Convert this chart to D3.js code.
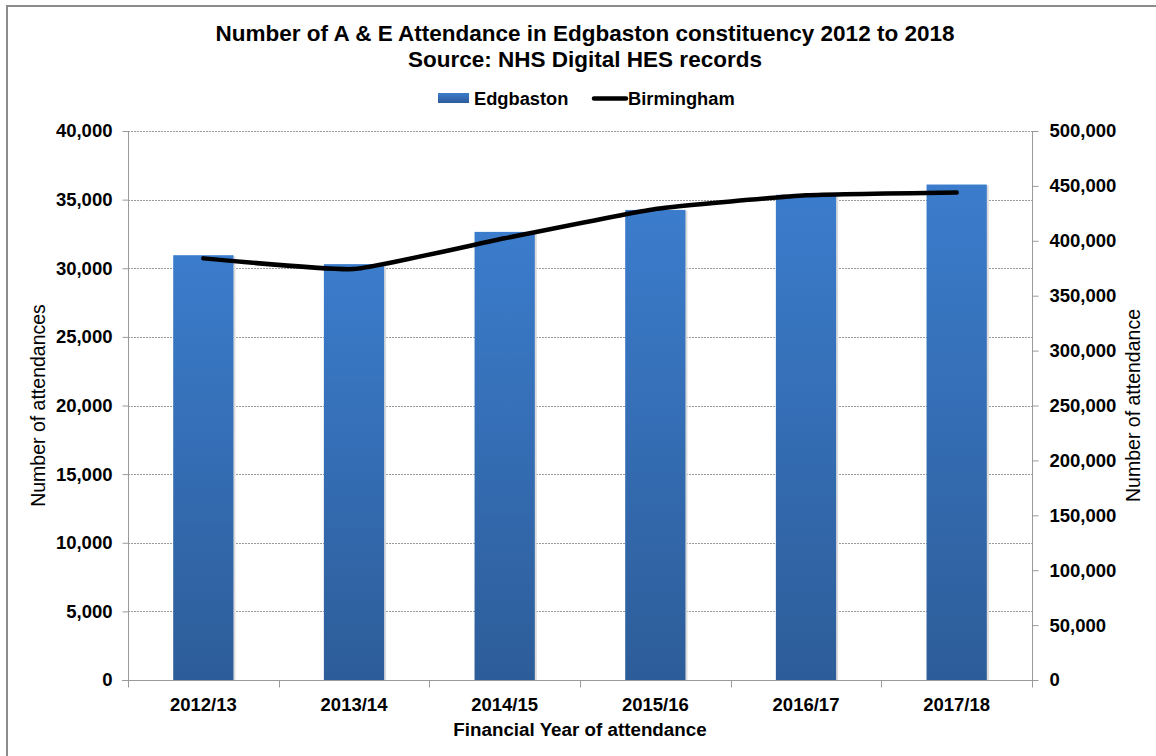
<!DOCTYPE html>
<html>
<head>
<meta charset="utf-8">
<script src="https://cdn.jsdelivr.net/npm/d3@7"></script>
<style>
  html, body { margin: 0; padding: 0; background: #fff; }
  svg { display: block; font-family: "Liberation Sans", Arial, sans-serif; }
</style>
</head>
<body>
<svg id="chart" width="1156" height="756"></svg>
<script>
const categories = ["2012/13", "2013/14", "2014/15", "2015/16", "2016/17", "2017/18"];
const edgbaston = [30950, 30300, 32650, 34250, 35350, 36100];
const birmingham = [384000, 374300, 402300, 429000, 441400, 444000];
const leftTicks = [0, 5000, 10000, 15000, 20000, 25000, 30000, 35000, 40000];
const rightTicks = [0, 50000, 100000, 150000, 200000, 250000, 300000, 350000, 400000, 450000, 500000];
const titleLines = ["Number of A & E Attendance in Edgbaston constituency 2012 to 2018", "Source: NHS Digital HES records"];
const seriesNames = ["Edgbaston", "Birmingham"];

const svg = d3.select("#chart");
const W = 1156, H = 756;
const m = { left: 128, right: 1032, top: 131, bottom: 680 };

// outer border
svg.append("rect").attr("x", 7).attr("y", 6).attr("width", W).attr("height", H)
  .attr("fill", "none").attr("stroke", "#8c8c8c").attr("stroke-width", 2);

const x = d3.scaleBand().domain(categories).range([m.left, m.right]).paddingInner(0.6).paddingOuter(0.3);
const yL = d3.scaleLinear().domain([0, 40000]).range([m.bottom, m.top]);
const yR = d3.scaleLinear().domain([0, 500000]).range([m.bottom, m.top]);
const fmt = d3.format(",");

// gradient
const defs = svg.append("defs");
const grad = defs.append("linearGradient").attr("id", "barGrad")
  .attr("x1", 0).attr("y1", 0).attr("x2", 0).attr("y2", 1);
grad.append("stop").attr("offset", "0%").attr("stop-color", "#3b7ccc");
grad.append("stop").attr("offset", "100%").attr("stop-color", "#2d5d99");
const lgrad = defs.append("linearGradient").attr("id", "legGrad")
  .attr("x1", 0).attr("y1", 0).attr("x2", 0).attr("y2", 1);
lgrad.append("stop").attr("offset", "0%").attr("stop-color", "#3b7ccc");
lgrad.append("stop").attr("offset", "100%").attr("stop-color", "#2d5d99");

// gridlines
svg.append("g").selectAll("line").data(leftTicks.filter(d => d > 0)).join("line")
  .attr("x1", m.left).attr("x2", m.right)
  .attr("y1", d => Math.round(yL(d)) + 0.5).attr("y2", d => Math.round(yL(d)) + 0.5)
  .attr("stroke", "#9a9a9a").attr("stroke-width", 1).attr("stroke-dasharray", "2,1");

// bar shadows
svg.append("g").selectAll("rect").data(edgbaston).join("rect")
  .attr("x", (d, i) => x(categories[i]) + 2)
  .attr("y", d => yL(d) + 1)
  .attr("width", x.bandwidth())
  .attr("height", d => m.bottom - yL(d) - 1)
  .attr("fill", "#dcdcdc");
// bars
svg.append("g").selectAll("rect").data(edgbaston).join("rect")
  .attr("x", (d, i) => x(categories[i]))
  .attr("y", d => yL(d))
  .attr("width", x.bandwidth())
  .attr("height", d => m.bottom - yL(d))
  .attr("fill", "url(#barGrad)");

// axes
const axisColor = "#9a9a9a";
const gL = svg.append("g").attr("transform", `translate(${m.left + 0.5},0)`)
  .call(d3.axisLeft(yL).tickValues(leftTicks).tickFormat(fmt).tickSize(6).tickPadding(10));
const gR = svg.append("g").attr("transform", `translate(${m.right + 0.5},0)`)
  .call(d3.axisRight(yR).tickValues(rightTicks).tickFormat(fmt).tickSize(6).tickPadding(11));
[gL, gR].forEach(g => {
  g.select(".domain").attr("stroke", axisColor).attr("d", `M0,${m.top}V${m.bottom + 7}`);
  g.selectAll(".tick line").attr("stroke", axisColor);
  g.selectAll("text").attr("font-size", 18.5).attr("font-weight", "bold").attr("fill", "#000")
    .attr("font-family", "Liberation Sans, Arial, sans-serif");
});

// bottom axis
const gB = svg.append("g").attr("transform", `translate(0,${m.bottom + 0.5})`);
gB.append("line").attr("x1", m.left - 6).attr("x2", m.right + 6).attr("stroke", axisColor);
const boundaries = d3.range(categories.length + 1).map(i => m.left + i * (m.right - m.left) / categories.length);
gB.selectAll("line.tk").data(boundaries).join("line").attr("class", "tk")
  .attr("x1", d => Math.round(d) + 0.5).attr("x2", d => Math.round(d) + 0.5)
  .attr("y1", 0).attr("y2", 7).attr("stroke", axisColor);
gB.selectAll("text").data(categories).join("text")
  .attr("x", d => x(d) + x.bandwidth() / 2).attr("y", 30)
  .attr("text-anchor", "middle").attr("font-size", 18.5).attr("font-weight", "bold")
  .text(d => d);

// line
const line = d3.line()
  .x((d, i) => x(categories[i]) + x.bandwidth() / 2)
  .y(d => yR(d))
  .curve(d3.curveCardinal.tension(0.6));
svg.append("path").datum(birmingham).attr("d", line)
  .attr("fill", "none").attr("stroke", "#000").attr("stroke-width", 4.5)
  .attr("stroke-linecap", "round").attr("stroke-linejoin", "round");

// titles
const t = svg.append("text").attr("text-anchor", "middle").attr("font-size", 22.5).attr("font-weight", "bold");
t.append("tspan").attr("x", 585).attr("y", 41).text(titleLines[0]);
t.append("tspan").attr("x", 585).attr("y", 67).text(titleLines[1]);

// legend
const lg = svg.append("g");
lg.append("rect").attr("x", 438).attr("y", 93).attr("width", 31).attr("height", 10).attr("fill", "url(#legGrad)");
lg.append("text").attr("x", 474).attr("y", 105).attr("font-size", 18.3).attr("font-weight", "bold").text(seriesNames[0]);
lg.append("line").attr("x1", 594).attr("x2", 626).attr("y1", 98.5).attr("y2", 98.5)
  .attr("stroke", "#000").attr("stroke-width", 4.5).attr("stroke-linecap", "round");
lg.append("text").attr("x", 628).attr("y", 105).attr("font-size", 18.3).attr("font-weight", "bold").text(seriesNames[1]);

// axis titles
svg.append("text").attr("text-anchor", "middle").attr("font-size", 19.5)
  .attr("transform", `translate(45,${(m.top + m.bottom) / 2}) rotate(-90)`).text("Number of attendances");
svg.append("text").attr("text-anchor", "middle").attr("font-size", 19.5)
  .attr("transform", `translate(1140,${(m.top + m.bottom) / 2}) rotate(-90)`).text("Number of attendance");
svg.append("text").attr("text-anchor", "middle").attr("font-size", 18.8).attr("font-weight", "bold")
  .attr("x", 580).attr("y", 736).text("Financial Year of attendance");
</script>
</body>
</html>
